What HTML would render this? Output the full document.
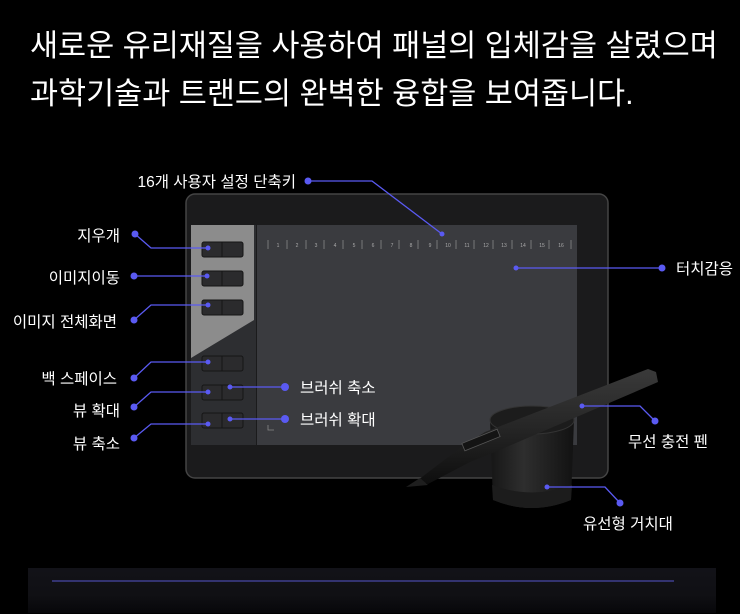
<!DOCTYPE html>
<html><head><meta charset="utf-8"><style>
html,body{margin:0;padding:0;background:#000;}
body{width:740px;height:614px;overflow:hidden;position:relative;font-family:"Liberation Sans","Noto Sans CJK KR",sans-serif;}
</style></head><body>
<svg width="740" height="614" xmlns="http://www.w3.org/2000/svg" style="position:absolute;left:0;top:0">
<defs>
<linearGradient id="pen" x1="0" y1="0" x2="0" y2="1"><stop offset="0" stop-color="#3a3a3a"/><stop offset="0.5" stop-color="#262626"/><stop offset="1" stop-color="#0e0e0e"/></linearGradient>
<linearGradient id="cup" x1="0" y1="0" x2="1" y2="0"><stop offset="0" stop-color="#161616"/><stop offset="0.4" stop-color="#2e2e2e"/><stop offset="1" stop-color="#121212"/></linearGradient>
<linearGradient id="bar" x1="0" y1="0" x2="0" y2="1"><stop offset="0" stop-color="#121218"/><stop offset="0.6" stop-color="#101014"/><stop offset="1" stop-color="#07070a"/></linearGradient>
</defs>
<rect width="740" height="614" fill="#000"/>
<g font-size="30.5" fill="#fff">
<text x="30" y="56">새로운 유리재질을 사용하여 패널의 입체감을 살렸으며</text>
<text x="30" y="104">과학기술과 트랜드의 완벽한 융합을 보여줍니다.</text>
</g>
<!-- tablet -->
<rect x="186" y="194" width="422" height="284" rx="9" fill="#1b1b1c" stroke="#444" stroke-width="1.5"/>
<rect x="191" y="225" width="65" height="220" fill="#2d2e31"/>
<polygon points="191,225 254,225 254,320 191,358" fill="#8c8c8c"/>
<rect x="257" y="225" width="320" height="220" fill="#3a3b3f"/>
<g fill="#2b2b2d" stroke="#151515" stroke-width="1">
<rect x="202" y="242" width="41" height="15" rx="2"/><rect x="202" y="271" width="41" height="15" rx="2"/>
<rect x="202" y="300" width="41" height="15" rx="2"/><rect x="202" y="356" width="41" height="15" rx="2"/>
<rect x="202" y="385" width="41" height="15" rx="2"/><rect x="202" y="413" width="41" height="15" rx="2"/>
</g>
<g stroke="#151515"><line x1="222" y1="242" x2="222" y2="257"/><line x1="222" y1="271" x2="222" y2="286"/><line x1="222" y1="300" x2="222" y2="315"/><line x1="222" y1="356" x2="222" y2="371"/><line x1="222" y1="385" x2="222" y2="400"/><line x1="222" y1="413" x2="222" y2="428"/></g>
<g stroke="#888" stroke-width="0.8">
<line x1="268" y1="240" x2="268" y2="249"/>
<line x1="287" y1="240" x2="287" y2="249"/><line x1="306" y1="240" x2="306" y2="249"/><line x1="324" y1="240" x2="324" y2="249"/><line x1="343" y1="240" x2="343" y2="249"/><line x1="362" y1="240" x2="362" y2="249"/><line x1="381" y1="240" x2="381" y2="249"/><line x1="399" y1="240" x2="399" y2="249"/><line x1="418" y1="240" x2="418" y2="249"/><line x1="437" y1="240" x2="437" y2="249"/><line x1="456" y1="240" x2="456" y2="249"/><line x1="474" y1="240" x2="474" y2="249"/><line x1="493" y1="240" x2="493" y2="249"/><line x1="512" y1="240" x2="512" y2="249"/><line x1="531" y1="240" x2="531" y2="249"/><line x1="549" y1="240" x2="549" y2="249"/><line x1="571" y1="240" x2="571" y2="249"/>
</g>
<g font-size="5" fill="#aaa" text-anchor="middle">
<text x="278" y="247">1</text><text x="297" y="247">2</text><text x="316" y="247">3</text><text x="335" y="247">4</text><text x="354" y="247">5</text><text x="373" y="247">6</text><text x="392" y="247">7</text><text x="411" y="247">8</text><text x="430" y="247">9</text><text x="448" y="247">10</text><text x="467" y="247">11</text><text x="486" y="247">12</text><text x="504" y="247">13</text><text x="523" y="247">14</text><text x="542" y="247">15</text><text x="561" y="247">16</text>
</g>
<path d="M268 425 V430 H274" stroke="#888" fill="none" stroke-width="0.8"/>
<!-- holder -->
<path d="M490 420 L493 500 Q532 516 571 500 L574 420 Z" fill="url(#cup)"/>
<path d="M492 485 Q532 500 572 485 L571 500 Q532 516 493 500 Z" fill="#1c1c1c"/>
<ellipse cx="532" cy="420" rx="42" ry="14" fill="#1c1c1c" stroke="#333"/>
<!-- pen -->
<polygon points="418,480 460,448 485,432 648,369 656,372 658,382 495,452 470,462 428,484" fill="url(#pen)"/>
<polygon points="406,487 420,478 428,485" fill="#1e1e1e"/>
<rect x="462" y="436" width="38" height="8" transform="rotate(-22 481 440)" fill="#141414" stroke="#555" stroke-width="0.8"/>
<!-- connectors -->
<g stroke="#5a5af2" stroke-width="1.3" fill="none">
<polyline points="308,181 372,181 442,234"/>
<polyline points="135,234 151,248 208,248"/>
<polyline points="134,276 207,276"/>
<polyline points="134,320 151,305 208,305"/>
<polyline points="134,378 151,362 208,362"/>
<polyline points="134,407 151,392 208,392"/>
<polyline points="134,438 151,424 208,424"/>
<polyline points="230,387 285,387"/>
<polyline points="230,419 285,419"/>
<polyline points="516,268 662,268"/>
<polyline points="582,406 640,406 655,421"/>
<polyline points="547,487 605,487 620,503"/>
</g>
<g fill="#5a5af2">
<circle cx="308" cy="181" r="3.5"/><circle cx="442" cy="234" r="2.5"/>
<circle cx="135" cy="234" r="3.5"/><circle cx="208" cy="248" r="2.5"/>
<circle cx="134" cy="276" r="3.5"/><circle cx="207" cy="276" r="2.5"/>
<circle cx="134" cy="320" r="3.5"/><circle cx="208" cy="305" r="2.5"/>
<circle cx="134" cy="378" r="3.5"/><circle cx="208" cy="362" r="2.5"/>
<circle cx="134" cy="407" r="3.5"/><circle cx="208" cy="392" r="2.5"/>
<circle cx="134" cy="438" r="3.5"/><circle cx="208" cy="424" r="2.5"/>
<circle cx="230" cy="387" r="2.5"/><circle cx="285" cy="387" r="4"/>
<circle cx="230" cy="419" r="2.5"/><circle cx="285" cy="419" r="4"/>
<circle cx="516" cy="268" r="2.5"/><circle cx="662" cy="268" r="3.5"/>
<circle cx="582" cy="406" r="2.5"/><circle cx="655" cy="421" r="3.5"/>
<circle cx="547" cy="487" r="2.5"/><circle cx="620" cy="503" r="3.5"/>
</g>
<g font-size="15.5" fill="#fff">
<text x="296" y="187" text-anchor="end">16개 사용자 설정 단축키</text>
<text x="120" y="241" text-anchor="end">지우개</text>
<text x="120" y="283" text-anchor="end">이미지이동</text>
<text x="117" y="327" text-anchor="end">이미지 전체화면</text>
<text x="117" y="384" text-anchor="end">백 스페이스</text>
<text x="120" y="416" text-anchor="end">뷰 확대</text>
<text x="120" y="449" text-anchor="end">뷰 축소</text>
<text x="300" y="393">브러쉬 축소</text>
<text x="300" y="425">브러쉬 확대</text>
<text x="676" y="274">터치감응</text>
<text x="628" y="447">무선 충전 펜</text>
<text x="583" y="529">유선형 거치대</text>
</g>
<!-- bottom bar -->
<rect x="28" y="568" width="688" height="45" fill="url(#bar)"/>
<line x1="52" y1="581" x2="674" y2="581" stroke="#4848a8" stroke-width="1.2"/>
</svg>
</body></html>
